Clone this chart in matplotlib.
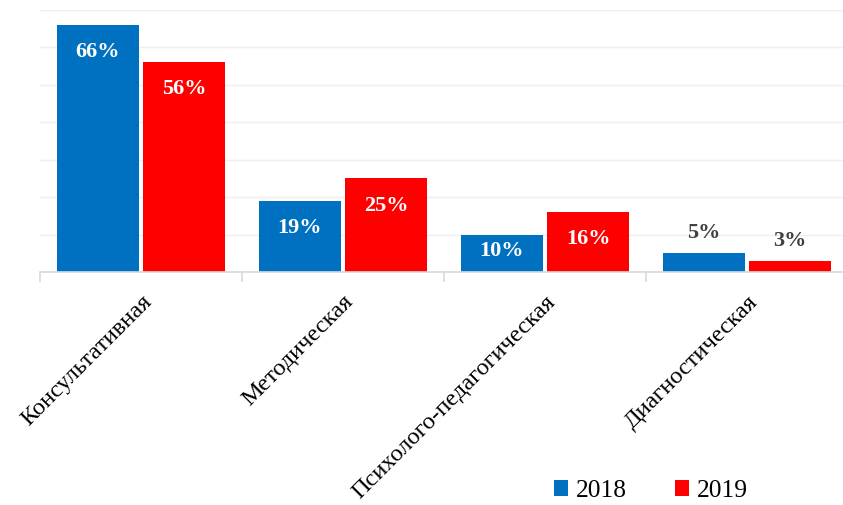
import matplotlib
matplotlib.use("Agg")
import matplotlib.pyplot as plt
import numpy as np

plt.rcParams["font.family"] = ["Liberation Serif", "DejaVu Serif"]

# ===== データ =====
categories = ["Консультативная", "Методическая", "Психолого-педагогическая", "Диагностическая"]
years = ["2018", "2019"]
values_2018 = [66, 19, 10, 5]
values_2019 = [56, 25, 16, 3]

colors = ["#0070C0", "#FF0000"]


def put_label(ax, x, v):
    """値ラベル（バー内側 or 上）"""
    text = f"{v}%"
    if v >= 15:
        ax.annotate(text, (x, v), xytext=(0, -19.5), textcoords="offset points",
                    ha="center", va="center", color="white",
                    fontsize=16, fontweight="bold")
    elif v >= 8:
        ax.annotate(text, (x, v / 2), xytext=(0, 1.5), textcoords="offset points",
                    ha="center", va="center", color="white",
                    fontsize=16, fontweight="bold")
    else:
        ax.annotate(text, (x, v), xytext=(0, 14.5), textcoords="offset points",
                    ha="center", va="center", color="#404040",
                    fontsize=16, fontweight="bold")


fig = plt.figure(figsize=(8.43, 5.05), dpi=100)
ax = fig.add_axes([40 / 843, 233 / 505, 808 / 843, 262 / 505])

x = np.arange(len(categories))
w = 0.406
off = 0.214
b1 = ax.bar(x - off, values_2018, w, color=colors[0], label=years[0], zorder=2)
b2 = ax.bar(x + off, values_2019, w, color=colors[1], label=years[1], zorder=2)

for xi, v in zip(x - off, values_2018):
    put_label(ax, xi, v)
for xi, v in zip(x + off, values_2019):
    put_label(ax, xi, v)

ax.set_xlim(-0.5, len(categories) - 0.5)
ax.set_ylim(0, 70)
ax.set_yticks(np.arange(0, 71, 10))
ax.tick_params(axis="y", length=0, labelleft=False)
ax.grid(axis="y", color="#EFEFEF", linewidth=1, zorder=0)

for s in ["top", "right", "left"]:
    ax.spines[s].set_visible(False)
ax.spines["bottom"].set_color("#D9D9D9")
ax.spines["bottom"].set_linewidth(1.2)

# カテゴリ境界の目盛
ax.set_xticks(np.arange(-0.5, len(categories), 1.0))
ax.set_xticklabels([])
ax.tick_params(axis="x", which="major", length=7, color="#D9D9D9", width=1.2)
ax.set_xticks(x, minor=True)
ax.set_xticklabels(categories, minor=True, rotation=45, ha="right",
                   rotation_mode="anchor", fontsize=17.6)
ax.tick_params(axis="x", which="minor", length=0, pad=14)

fig.legend(handles=[b1, b2], labels=years, loc="center",
           bbox_to_anchor=(651 / 843, 1 - 491 / 505), ncol=2, frameon=False,
           fontsize=18.4, handlelength=0.55, handleheight=0.55,
           handletextpad=0.3, columnspacing=1.9)

fig.savefig("out.png", dpi=100)
